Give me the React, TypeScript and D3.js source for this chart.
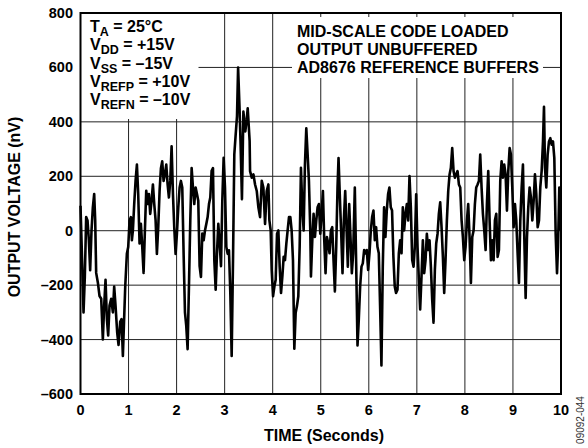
import * as d3 from "d3";
import React, { useEffect, useRef } from 'react'

// time axis, seconds
const timeSec = [
  0, 0.035, 0.063, 0.09, 0.118, 0.146, 0.174, 0.201, 0.229, 0.257, 0.285, 0.306, 0.326, 0.361, 0.396, 0.431,
  0.465, 0.493, 0.521, 0.549, 0.576, 0.604, 0.639, 0.674, 0.701, 0.729, 0.764, 0.792, 0.826, 0.854, 0.882, 0.903,
  0.931, 0.965, 0.993, 1.021, 1.049, 1.069, 1.09, 1.118, 1.146, 1.174, 1.201, 1.229, 1.257, 1.285, 1.313, 1.34,
  1.368, 1.396, 1.424, 1.451, 1.479, 1.507, 1.535, 1.563, 1.59, 1.618, 1.646, 1.674, 1.701, 1.729, 1.757, 1.785,
  1.813, 1.84, 1.868, 1.896, 1.924, 1.951, 1.979, 2.007, 2.035, 2.063, 2.09, 2.118, 2.146, 2.174, 2.201, 2.229,
  2.257, 2.285, 2.313, 2.34, 2.368, 2.396, 2.424, 2.451, 2.479, 2.507, 2.535, 2.563, 2.59, 2.618, 2.646, 2.674,
  2.701, 2.729, 2.757, 2.785, 2.813, 2.84, 2.868, 2.896, 2.924, 2.951, 2.979, 3.007, 3.035, 3.063, 3.09, 3.118,
  3.146, 3.174, 3.201, 3.229, 3.257, 3.28, 3.31, 3.33, 3.36, 3.39, 3.43, 3.46, 3.48, 3.52,
  3.529, 3.564, 3.599, 3.633, 3.668, 3.702, 3.737, 3.772, 3.806, 3.841, 3.875, 3.91, 3.931, 3.958, 3.979, 4.007,
  4.035, 4.062, 4.09, 4.118, 4.145, 4.173, 4.201, 4.228, 4.256, 4.284, 4.311, 4.339, 4.367, 4.394, 4.422, 4.45,
  4.478, 4.505, 4.533, 4.561, 4.588, 4.616, 4.644, 4.671, 4.699, 4.727, 4.754, 4.782, 4.796, 4.824, 4.851, 4.879,
  4.907, 4.934, 4.962, 4.99, 5.017, 5.045, 5.073, 5.1, 5.128, 5.156, 5.183, 5.211, 5.239, 5.266, 5.294, 5.322,
  5.349, 5.37, 5.398, 5.426, 5.453, 5.481, 5.509, 5.536, 5.564, 5.592, 5.619, 5.647, 5.675, 5.709, 5.737, 5.765,
  5.792, 5.82, 5.848, 5.875, 5.903, 5.931, 5.958, 5.986, 6.014, 6.042, 6.069, 6.097, 6.125, 6.152, 6.18, 6.208,
  6.235, 6.263, 6.291, 6.318, 6.346, 6.374, 6.401, 6.429, 6.457, 6.484, 6.512, 6.54, 6.567,
  6.597, 6.625, 6.653, 6.681, 6.708, 6.736, 6.764, 6.792, 6.819, 6.847, 6.875, 6.903, 6.931, 6.958, 6.986, 7.014,
  7.042, 7.069, 7.097, 7.125, 7.153, 7.181, 7.208, 7.236, 7.264, 7.292, 7.319, 7.347, 7.375, 7.403, 7.431, 7.458,
  7.486, 7.514, 7.542, 7.569, 7.597, 7.625, 7.653, 7.681, 7.708, 7.736, 7.764, 7.792, 7.819, 7.847, 7.875, 7.903,
  7.931, 7.958, 7.986, 8.014, 8.042, 8.069, 8.097, 8.125, 8.153, 8.181, 8.208, 8.236, 8.264, 8.292, 8.319, 8.347,
  8.375, 8.403, 8.431, 8.458, 8.486, 8.514, 8.542, 8.569, 8.597, 8.625, 8.653, 8.681, 8.708, 8.736, 8.764, 8.792,
  8.819, 8.847, 8.875, 8.903, 8.931, 8.958, 8.986, 9.014, 9.042, 9.069, 9.097, 9.125, 9.153, 9.181, 9.208, 9.236,
  9.264, 9.292, 9.319, 9.347, 9.375, 9.403, 9.431, 9.458, 9.486, 9.514, 9.542, 9.569, 9.597, 9.625, 9.646, 9.667,
  9.694, 9.722, 9.75, 9.778, 9.806, 9.833, 9.861, 9.889, 9.917, 9.938, 9.965, 9.986
]

// output noise, nV
const outputNv = [
  92, -120, -300, -170, 50, 38, -35, -145, 0, 86, 135, 38, -155, -190, -240, -250,
  -400, -275, -180, -325, -385, -275, -250, -300, -205, -275, -375, -420, -335, -325, -460, -350,
  -205, -85, -60, 38, 50, -35, 0, 98, 183, 243, 135, -47, 25, -60, -155, 0,
  147, 98, 135, 62, 110, 170, 98, 38, -85, 13, 147, 230, 255, 183, 207, 243,
  170, 122, 183, 310, 135, 13, -85, -10, 86, 159, 183, 159, -85, -300, -350, -435,
  -205, 38, 230, 159, 98, 159, 135, 110, -130, -170, -10, -35, 0, 25, 50, 98,
  122, 220, 230, -108, -217, -85, 25, -47, -130, 110, 268, 159, -60, -85, -72, -230,
  -460, -108, 280, 352, 420, 600, 450, 330, 116, 438, 365, 410, 450, 329,
  219, 195, 207, 170, 146, 86, 50, 183, 159, 25, 146, 170, 38, 1, -144, -241,
  -205, -180, -11, 1, -132, -229, -168, -96, -108, -47, 1, 50, 50, 1, -108, -434,
  -301, -277, -241, -59, 231, 86, 1, 243, 376, 280, 183, 1, -168, -35, 62, -23,
  38, 86, 98, -11, 62, 146, -35, -156, -23, -47, -83, 1, 13, -108, -223, -59,
  159, 267, 122, -11, -156, 38, 146, 13, -132, 98, -23, -156, -83, 159, -120, -422,
  -325, -205, -132, -120, -71, -83, -71, -144, -83, 1, 50, 74, -35, 13, -59, -83,
  -277, -495, -132, 86, -23, 74, 134, 159, 86, 74, -96, -205, -229,
  -217, -83, -35, -83, 86, 1, 62, 98, 38, 201, 86, -108, -132, -59, 134, -59,
  -180, -289, -168, -35, -156, -108, -11, -71, -35, -132, -253, -338, -144, -47, -11, 62,
  104, 13, -96, -229, -108, 38, 146, 207, 231, 304, 219, 195, 207, 219, 170, 159,
  38, -23, -108, -59, 38, 98, -23, -192, -23, 1, 98, 159, 170, 183, 280, 159,
  62, 1, -71, 98, 219, 38, -108, -35, -108, 38, 62, -96, -71, 183, 255, 195,
  243, 207, 74, 219, 304, 280, 159, 13, 98, 38, -83, -192, 38, 159, 243, -23,
  -247, -23, 86, 159, 122, 38, 110, 207, 134, 13, 38, 159, 219, 328, 455, 231,
  159, 280, 328, 340, 316, 328, 267, -11, -156, -59, 159, 1
]

const xTicks = [0, 1, 2, 3, 4, 5, 6, 7, 8, 9, 10]
const yTicks = [-600, -400, -200, 0, 200, 400, 600, 800]

// [main, subscript, rest]
const conditionLines = [
  ["T", "A", " = 25°C"],
  ["V", "DD", " = +15V"],
  ["V", "SS", " = –15V"],
  ["V", "REFP", " = +10V"],
  ["V", "REFN", " = –10V"],
]
const setupLines = ["MID-SCALE CODE LOADED", "OUTPUT UNBUFFERED", "AD8676 REFERENCE BUFFERS"]

const fmt = (v: number) => (v < 0 ? "–" + Math.abs(v) : String(v))

const drawChart = (el: SVGSVGElement) => {
  const width = 588
  const height = 448
  const left = 80.5, right = 561, top = 13, bottom = 394
  const font = "'Liberation Sans', Arial, sans-serif"

  const svg = d3.select(el)
  svg.selectAll("*").remove()
  svg.attr("width", width).attr("height", height)

  const xScale = d3.scaleLinear().domain([0, 10]).range([left, right])
  const yScale = d3.scaleLinear().domain([-600, 800]).range([bottom, top])

  svg.append("rect").attr("width", width).attr("height", height).attr("fill", "#fff")

  // grid
  svg.append("g")
    .selectAll("line.vx")
    .data(xTicks)
    .enter()
    .append("line")
    .attr("x1", (d) => xScale(d)).attr("x2", (d) => xScale(d))
    .attr("y1", top).attr("y2", bottom)
    .attr("stroke", "#222").attr("stroke-width", 1)
  svg.append("g")
    .selectAll("line.hy")
    .data(yTicks)
    .enter()
    .append("line")
    .attr("x1", left).attr("x2", right)
    .attr("y1", (d) => yScale(d)).attr("y2", (d) => yScale(d))
    .attr("stroke", "#222").attr("stroke-width", 1)

  // the trace
  const pts = timeSec.map((t, i) => [t, outputNv[i]] as [number, number])
  const line = d3.line()
    .x((d) => xScale(d[0]))
    .y((d) => yScale(d[1]))
  svg.append("path")
    .attr("d", line(pts))
    .attr("fill", "none")
    .attr("stroke", "#000")
    .attr("stroke-width", 2.6)
    .attr("stroke-linejoin", "round")

  // white boxes behind the notes
  svg.append("rect").attr("x", left).attr("y", top).attr("width", 118).attr("height", 106).attr("fill", "#fff")
  svg.append("rect").attr("x", 292).attr("y", 17).attr("width", 251).attr("height", 61).attr("fill", "#fff")

  // frame
  svg.append("rect")
    .attr("x", left).attr("y", top)
    .attr("width", right - left).attr("height", bottom - top)
    .attr("fill", "none").attr("stroke", "#000").attr("stroke-width", 2)

  // tick labels
  svg.append("g")
    .selectAll("text")
    .data(yTicks)
    .enter()
    .append("text")
    .attr("x", 73)
    .attr("y", (d) => yScale(d) + 5)
    .attr("text-anchor", "end")
    .style("font", `bold 14.5px ${font}`)
    .text((d) => fmt(d))
  svg.append("g")
    .selectAll("text")
    .data(xTicks)
    .enter()
    .append("text")
    .attr("x", (d) => xScale(d))
    .attr("y", 415)
    .attr("text-anchor", "middle")
    .style("font", `bold 14.5px ${font}`)
    .text((d) => String(d))

  svg.append("text")
    .attr("x", 324).attr("y", 441)
    .attr("text-anchor", "middle")
    .style("font", `bold 16px ${font}`)
    .text("TIME (Seconds)")
  svg.append("text")
    .attr("transform", "translate(20,207) rotate(-90)")
    .attr("text-anchor", "middle")
    .style("font", `bold 16px ${font}`)
    .text("OUTPUT VOLTAGE (nV)")
  svg.append("text")
    .attr("transform", "translate(584,420) rotate(-90)")
    .attr("text-anchor", "middle")
    .style("font", `10px ${font}`)
    .attr("fill", "#333")
    .text("09092-044")

  // conditions, top left
  conditionLines.forEach((c, i) => {
    const tx = svg.append("text")
      .attr("x", 90).attr("y", 32 + i * 18.3)
      .style("font", `bold 16px ${font}`)
    tx.append("tspan").text(c[0])
    tx.append("tspan").attr("dy", 4).style("font-size", "12.5px").text(c[1])
    tx.append("tspan").attr("dy", -4).text(c[2])
  })

  svg.append("g")
    .selectAll("text")
    .data(setupLines)
    .enter()
    .append("text")
    .attr("x", 297)
    .attr("y", (_d, i) => 37 + i * 18)
    .style("font", `bold 16px ${font}`)
    .text((d) => d)
}

export default function App() {
  const ref = useRef<SVGSVGElement>(null)
  useEffect(() => {
    if (ref.current) drawChart(ref.current)
  }, [])
  return (
    <svg ref={ref} style={{ position: "absolute", left: 0, top: 0 }} />
  )
}
